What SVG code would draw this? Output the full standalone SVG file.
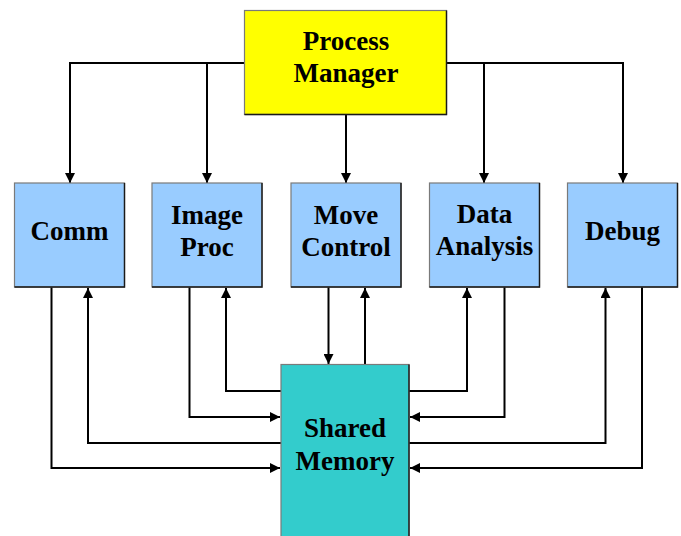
<svg xmlns="http://www.w3.org/2000/svg" width="681" height="536" viewBox="0 0 681 536">
  <style>
    .box { stroke: #7a7a7a; stroke-width: 1.2; }
    .edge { fill: none; stroke: #1a1a1a; stroke-width: 1.4; }
    .pm { fill: #ffff00; }
    .mod { fill: #99ccff; }
    .mem { fill: #33cccc; }
    .lbl { font-family: "Liberation Serif", "Times New Roman", serif; font-weight: bold; font-size: 27px; fill: #000; text-anchor: middle; }
    .wire { fill: none; stroke: #000; stroke-width: 2; }
  </style>
  <defs>
    <marker id="arr" viewBox="0 0 10 10" refX="10" refY="5" markerWidth="10" markerHeight="10" markerUnits="userSpaceOnUse" orient="auto">
      <path d="M0,0 L10,5 L0,10 Z" fill="#000"/>
    </marker>
  </defs>

  <!-- connectors -->
  <g id="connectors" class="wire">
    <!-- Process Manager fan-out -->
    <path d="M245,63 H70 V183" marker-end="url(#arr)"/>
    <path d="M207,63 V183" marker-end="url(#arr)"/>
    <path d="M346,115 V183" marker-end="url(#arr)"/>
    <path d="M447,63 H623 V183" marker-end="url(#arr)"/>
    <path d="M484,63 V183" marker-end="url(#arr)"/>

    <!-- Comm <-> Shared Memory -->
    <path d="M51.5,287 V468 H280" marker-end="url(#arr)"/>
    <path d="M281,443 H88 V288" marker-end="url(#arr)"/>
    <!-- Image Proc <-> Shared Memory -->
    <path d="M189.5,287 V417 H280" marker-end="url(#arr)"/>
    <path d="M281,391 H226 V288" marker-end="url(#arr)"/>
    <!-- Move Control <-> Shared Memory -->
    <path d="M328.5,287 V364" marker-end="url(#arr)"/>
    <path d="M365,364 V288" marker-end="url(#arr)"/>
    <!-- Data Analysis <-> Shared Memory -->
    <path d="M409,391 H467 V288" marker-end="url(#arr)"/>
    <path d="M504.5,287 V417 H410" marker-end="url(#arr)"/>
    <!-- Debug <-> Shared Memory -->
    <path d="M409,443 H605.5 V288" marker-end="url(#arr)"/>
    <path d="M642,287 V468 H410" marker-end="url(#arr)"/>
  </g>

  <g id="process-manager">
    <rect class="box pm" x="244.5" y="10.5" width="202" height="104"/>
    <path class="edge" d="M446.5,10.5 V114.5 H244.5"/>
    <text class="lbl" x="346" y="50">Process</text>
    <text class="lbl" x="346" y="82">Manager</text>
  </g>

  <g id="comm">
    <rect class="box mod" x="14.5" y="183" width="110" height="104"/>
    <path class="edge" d="M124.5,183 V287 H14.5"/>
    <text class="lbl" x="69.5" y="240">Comm</text>
  </g>

  <g id="image-proc">
    <rect class="box mod" x="152" y="183" width="110" height="104"/>
    <path class="edge" d="M262,183 V287 H152"/>
    <text class="lbl" x="207" y="224">Image</text>
    <text class="lbl" x="207" y="256">Proc</text>
  </g>

  <g id="move-control">
    <rect class="box mod" x="291" y="183" width="110" height="104"/>
    <path class="edge" d="M401,183 V287 H291"/>
    <text class="lbl" x="346" y="224">Move</text>
    <text class="lbl" x="346" y="256">Control</text>
  </g>

  <g id="data-analysis">
    <rect class="box mod" x="429.5" y="183" width="110" height="104"/>
    <path class="edge" d="M539.5,183 V287 H429.5"/>
    <text class="lbl" x="484.5" y="223">Data</text>
    <text class="lbl" x="484.5" y="255">Analysis</text>
  </g>

  <g id="debug">
    <rect class="box mod" x="567.5" y="183" width="110" height="104"/>
    <path class="edge" d="M677.5,183 V287 H567.5"/>
    <text class="lbl" x="622.5" y="240">Debug</text>
  </g>

  <g id="shared-memory">
    <rect class="box mem" x="281" y="364.5" width="128" height="180"/>
    <path class="edge" d="M409,364.5 V544"/>
    <text class="lbl" x="345" y="437">Shared</text>
    <text class="lbl" x="345" y="470">Memory</text>
  </g>
</svg>
